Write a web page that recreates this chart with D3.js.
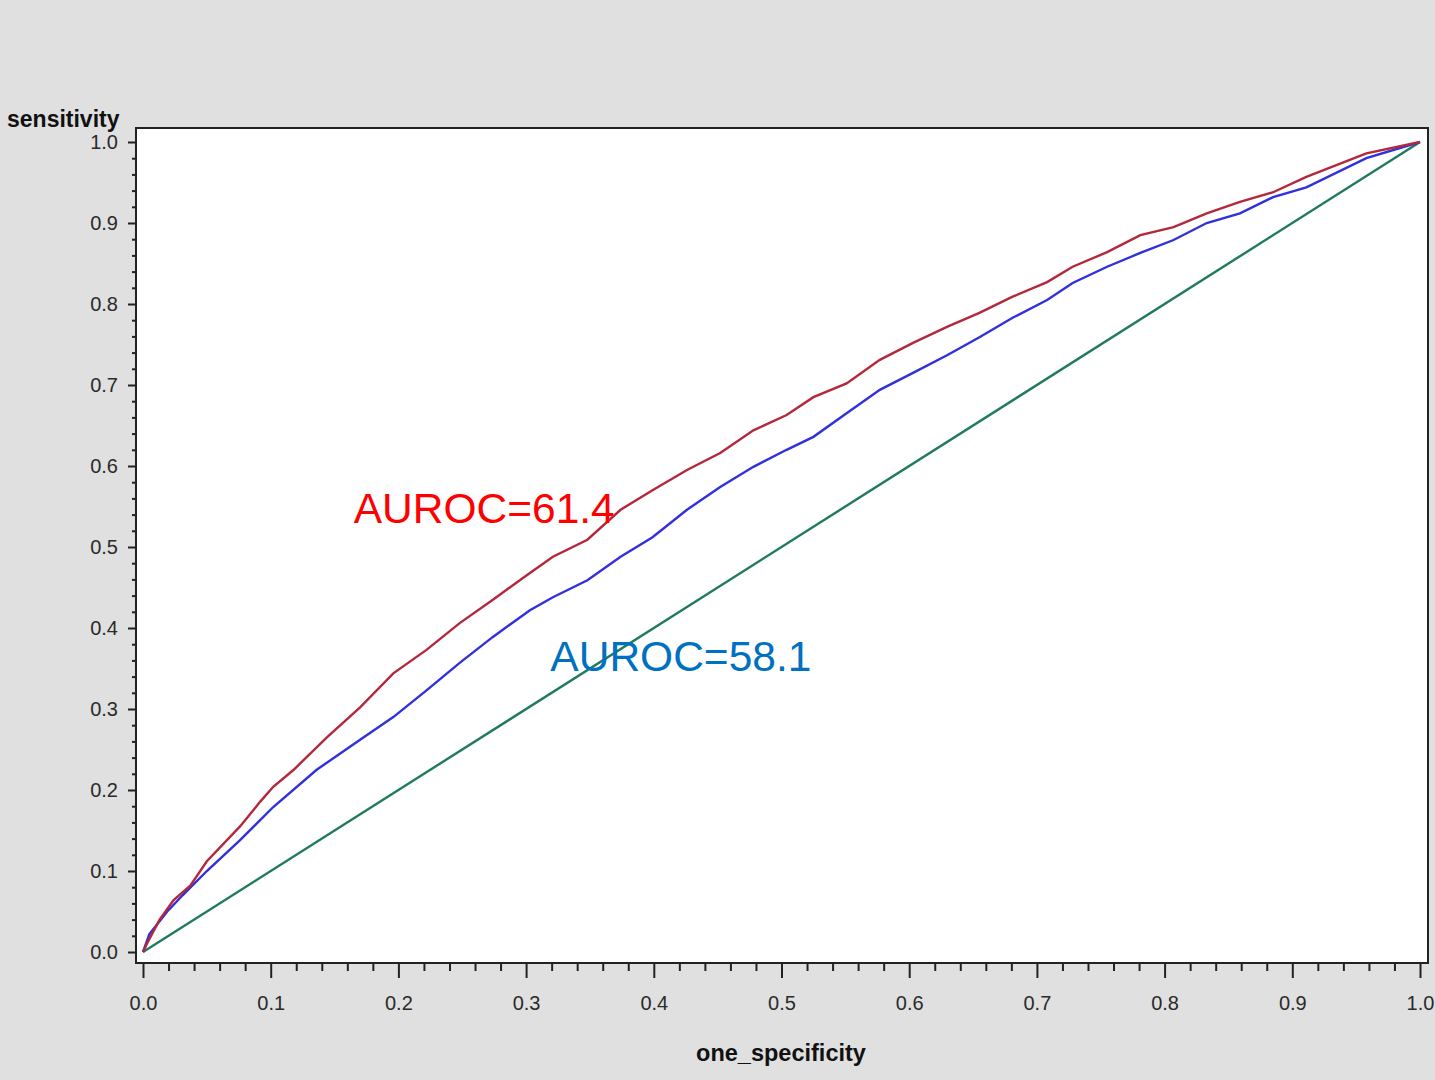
<!DOCTYPE html>
<html>
<head>
<meta charset="utf-8">
<script src="https://cdn.jsdelivr.net/npm/d3@7"></script>
<style>
  body { margin: 0; background: #e0e0e0; }
  svg { display: block; font-family: Arial, "Liberation Sans", Helvetica, sans-serif; }
</style>
</head>
<body>
<svg id="roc" width="1435" height="1080"></svg>
<script>
// readings (one_specificity, sensitivity)
const redX = [0, 0.003, 0.013, 0.024, 0.037, 0.05, 0.076, 0.092, 0.102, 0.118, 0.144, 0.17, 0.196, 0.222, 0.248, 0.274, 0.303, 0.321, 0.348, 0.374, 0.399, 0.426, 0.452, 0.478, 0.504, 0.525, 0.551, 0.577, 0.603, 0.63, 0.655, 0.681, 0.708, 0.728, 0.755, 0.781, 0.807, 0.833, 0.859, 0.885, 0.911, 0.958, 1];
const redY = [0, 0.01, 0.04, 0.064, 0.082, 0.112, 0.155, 0.186, 0.204, 0.225, 0.265, 0.302, 0.344, 0.373, 0.406, 0.435, 0.468, 0.488, 0.509, 0.546, 0.57, 0.595, 0.616, 0.644, 0.663, 0.685, 0.702, 0.731, 0.752, 0.772, 0.789, 0.809, 0.827, 0.846, 0.864, 0.885, 0.895, 0.912, 0.926, 0.938, 0.957, 0.986, 1];
const blueX = [0, 0.005, 0.019, 0.031, 0.05, 0.076, 0.102, 0.136, 0.17, 0.196, 0.222, 0.248, 0.274, 0.303, 0.321, 0.348, 0.374, 0.399, 0.426, 0.452, 0.478, 0.504, 0.525, 0.551, 0.577, 0.603, 0.63, 0.655, 0.681, 0.708, 0.728, 0.755, 0.781, 0.807, 0.833, 0.859, 0.885, 0.911, 0.958, 1];
const blueY = [0, 0.022, 0.05, 0.07, 0.1, 0.138, 0.179, 0.225, 0.262, 0.29, 0.323, 0.357, 0.389, 0.422, 0.438, 0.459, 0.488, 0.512, 0.546, 0.574, 0.599, 0.62, 0.636, 0.665, 0.694, 0.715, 0.737, 0.759, 0.783, 0.805, 0.826, 0.846, 0.863, 0.879, 0.9, 0.912, 0.932, 0.944, 0.98, 1];
const refX = [0, 1];
const refY = [0, 1];
const majorTicks = [0, 0.1, 0.2, 0.3, 0.4, 0.5, 0.6, 0.7, 0.8, 0.9, 1.0];
const minorTicks = d3.range(0, 50).map(i => i / 50).filter(v => Math.round(v * 50) % 5 != 0);
const labels = [
  { text: "AUROC=61.4", color: "#ff0000", x: 0.165, y: 0.53 },
  { text: "AUROC=58.1", color: "#0070c0", x: 0.319, y: 0.347 }
];

const svg = d3.select("#roc");
svg.append("rect").attr("width", 1435).attr("height", 1080).attr("fill", "#e0e0e0");

const x = d3.scaleLinear().domain([0, 1]).range([143, 1420]);
const y = d3.scaleLinear().domain([0, 1]).range([952, 142]);

const frameL = 136, frameR = 1428, frameT = 128, frameB = 963;

svg.append("rect")
  .attr("x", frameL).attr("y", frameT)
  .attr("width", frameR - frameL).attr("height", frameB - frameT)
  .attr("fill", "#fff");

// minor ticks
svg.append("g")
  .attr("transform", "translate(0," + frameB + ")")
  .call(d3.axisBottom(x).tickValues(minorTicks).tickSize(8).tickFormat(""))
  .call(g => g.select(".domain").remove());
svg.append("g")
  .attr("transform", "translate(" + frameL + ",0)")
  .call(d3.axisLeft(y).tickValues(minorTicks).tickSize(4).tickFormat(""))
  .call(g => g.select(".domain").remove());

// major ticks
const xAxis = svg.append("g")
  .attr("transform", "translate(0," + frameB + ")")
  .call(d3.axisBottom(x).tickValues(majorTicks).tickSize(15).tickPadding(18).tickFormat(d3.format(".1f")));
const yAxis = svg.append("g")
  .attr("transform", "translate(" + frameL + ",0)")
  .call(d3.axisLeft(y).tickValues(majorTicks).tickSize(8).tickPadding(10).tickFormat(d3.format(".1f")));

[xAxis, yAxis].forEach(a => {
  a.select(".domain").remove();
  a.selectAll("text").attr("font-size", 20).attr("fill", "#2a2a2a").attr("font-family", "Arial, 'Liberation Sans', sans-serif");
});
svg.selectAll(".tick line").attr("stroke", "#222").attr("stroke-width", 2);

const line = d3.line().x(d => x(d[0])).y(d => y(d[1]));

svg.append("path")
  .datum(d3.zip(refX, refY))
  .attr("d", line).attr("fill", "none")
  .attr("stroke", "#1f7a60").attr("stroke-width", 2.4);
svg.append("path")
  .datum(d3.zip(blueX, blueY))
  .attr("d", line).attr("fill", "none")
  .attr("stroke", "#3030dd").attr("stroke-width", 2.4);
svg.append("path")
  .datum(d3.zip(redX, redY))
  .attr("d", line).attr("fill", "none")
  .attr("stroke", "#b3283a").attr("stroke-width", 2.4);

// frame
svg.append("rect")
  .attr("x", frameL).attr("y", frameT)
  .attr("width", frameR - frameL).attr("height", frameB - frameT)
  .attr("fill", "none").attr("stroke", "#222").attr("stroke-width", 2);

svg.selectAll(".auroc")
  .data(labels)
  .enter()
  .append("text")
  .attr("class", "auroc")
  .attr("x", d => x(d.x))
  .attr("y", d => y(d.y))
  .attr("fill", d => d.color)
  .attr("font-size", 42.5)
  .text(d => d.text);

svg.append("text")
  .attr("x", 7).attr("y", 127)
  .attr("font-size", 23).attr("font-weight", "bold").attr("fill", "#111")
  .text("sensitivity");

svg.append("text")
  .attr("x", 781).attr("y", 1061)
  .attr("text-anchor", "middle")
  .attr("font-size", 23.5).attr("font-weight", "bold").attr("fill", "#111")
  .text("one_specificity");
</script>
</body>
</html>
